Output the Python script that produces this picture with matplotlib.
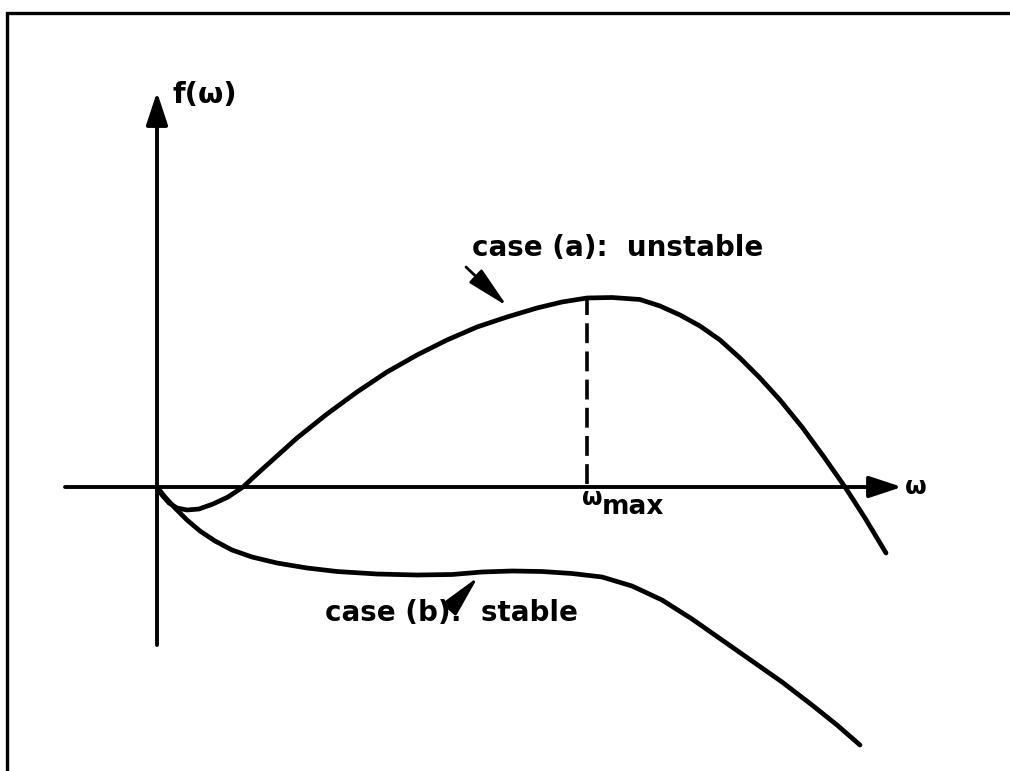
import matplotlib.pyplot as plt

# Curva (a): caso inestable, en unidades de (omega, f)
omegaA = [0.00, 0.05, 0.12, 0.20, 0.30, 0.42, 0.56, 0.71, 0.86, 1.00, 1.20, 1.40, 1.70, 2.00,
          2.30, 2.60, 2.90, 3.20, 3.50, 3.80, 4.05, 4.30, 4.55, 4.83, 5.03, 5.23, 5.43, 5.63,
          5.83, 6.03, 6.23, 6.45, 6.67, 6.88, 7.08, 7.29]
fA = [0.00, -0.08, -0.16, -0.21, -0.23, -0.22, -0.17, -0.10, 0.00, 0.13, 0.31, 0.49, 0.73, 0.95,
      1.15, 1.32, 1.47, 1.60, 1.70, 1.79, 1.85, 1.89, 1.895, 1.875, 1.81, 1.72, 1.61, 1.47,
      1.29, 1.09, 0.87, 0.60, 0.30, 0.00, -0.31, -0.66]

# Curva (b): caso estable
omegaB = [0.00, 0.08, 0.18, 0.30, 0.43, 0.58, 0.75, 0.95, 1.20, 1.50, 1.80, 2.20, 2.60, 2.95,
          3.25, 3.55, 3.85, 4.15, 4.45, 4.75, 5.05, 5.35, 5.65, 5.95, 6.25, 6.55, 6.80, 7.03]
fB = [0.00, -0.10, -0.21, -0.33, -0.44, -0.54, -0.63, -0.70, -0.76, -0.81, -0.845, -0.87, -0.88, -0.875,
      -0.85, -0.84, -0.845, -0.865, -0.90, -0.99, -1.13, -1.32, -1.53, -1.74, -1.95, -2.18, -2.38, -2.58]

omegaMax = 4.30
fMax = 1.89

fig = plt.figure(figsize=(10.10, 7.71), dpi=100)
ax = fig.add_axes([0, 0, 1, 1])
ax.set_xlim(-1.57, 8.53)
ax.set_ylim(-2.84, 4.87)
ax.axis('off')

# Marco
ax.plot([-1.50, -1.50, 8.60], [-2.90, 4.74, 4.74], color='black', lw=2.4,
        solid_joinstyle='miter')

# Ejes con flecha
axisProps = dict(arrowstyle='-|>,head_length=1.0,head_width=0.33', lw=2.8, color='black',
                 mutation_scale=20, shrinkA=0, shrinkB=0)
ax.annotate('', xy=(7.45, 0), xytext=(-0.92, 0), arrowprops=axisProps)
ax.annotate('', xy=(0, 3.95), xytext=(0, -1.58), arrowprops=axisProps)

# Curvas
ax.plot(omegaA, fA, color='black', lw=3.4, solid_capstyle='round', solid_joinstyle='round')
ax.plot(omegaB, fB, color='black', lw=3.4, solid_capstyle='round', solid_joinstyle='round')

# Línea discontinua en omega_max
ax.plot([omegaMax, omegaMax], [0.03, fMax], color='black', lw=2.6, dashes=(5.5, 2.3))

# Textos
fontProps = dict(family='DejaVu Sans', fontweight='bold', color='black')
ax.text(0.15, 3.92, 'f(ω)', fontsize=21, ha='left', va='center', **fontProps)
ax.text(7.48, 0.0, 'ω', fontsize=18, ha='left', va='center', **fontProps)
ax.text(4.25, -0.11, 'ω', fontsize=17, ha='left', va='center', **fontProps)
ax.text(4.45, -0.20, 'max', fontsize=19, ha='left', va='center', **fontProps)
ax.text(3.15, 2.39, 'case (a):  unstable', fontsize=20, ha='left', va='center', **fontProps)
ax.text(1.68, -1.26, 'case (b):  stable', fontsize=20, ha='left', va='center', **fontProps)

# Flechas que señalan cada curva
pointerProps = dict(arrowstyle='-|>,head_length=1.3,head_width=0.28', lw=2.0, color='black',
                    mutation_scale=20, shrinkA=0, shrinkB=0)
ax.annotate('', xy=(3.50, 1.81), xytext=(3.09, 2.20), arrowprops=pointerProps)
ax.annotate('', xy=(3.21, -0.90), xytext=(3.05, -1.08), arrowprops=pointerProps)

plt.savefig('out.png', dpi=100)
plt.close()
